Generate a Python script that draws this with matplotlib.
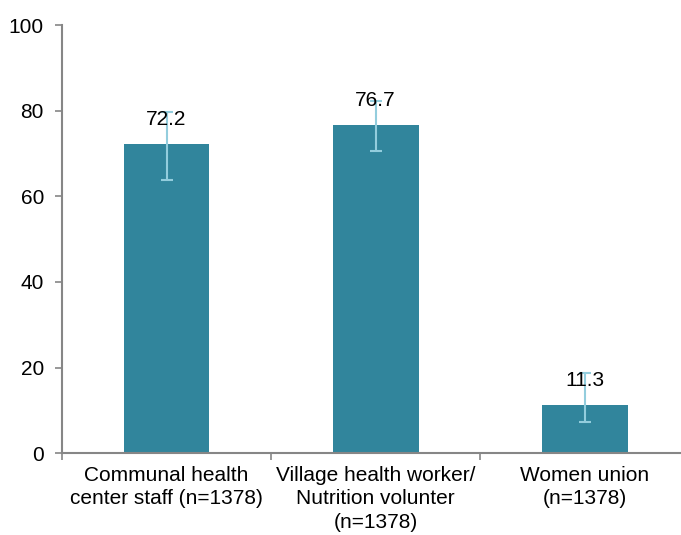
import matplotlib.pyplot as plt
import numpy as np

categories = ["Communal health\ncenter staff (n=1378)",
              "Village health worker/\nNutrition volunter\n(n=1378)",
              "Women union\n(n=1378)"]
values = [72.2, 76.7, 11.3]
ci_low = [63.8, 70.5, 7.3]
ci_high = [79.7, 82.3, 18.7]

plt.rcParams['font.family'] = ['Liberation Sans', 'DejaVu Sans']

fig = plt.figure(figsize=(6.81, 5.35), dpi=100)
ax = fig.add_axes([0.091, 0.153, 0.909, 0.800])

x = np.arange(len(values))
err = [np.array(values) - np.array(ci_low), np.array(ci_high) - np.array(values)]
ax.bar(x, values, width=0.41, color='#31859C', zorder=2)
ax.errorbar(x, values, yerr=err, fmt='none', ecolor='#93CDDD', elinewidth=1.5,
            capsize=4.3, capthick=1.5, zorder=3)

for xi, v in zip(x, values):
    ax.annotate(f"{v:.1f}", (xi, v), xytext=(0, 17.5), textcoords='offset points',
                ha='center', va='center', fontsize=15, zorder=4)

ax.set_ylim(0, 100)
ax.set_yticks([0, 20, 40, 60, 80, 100])
ax.set_xlim(-0.5, 2.46)
ax.set_xticks(x)
ax.set_xticklabels(categories, fontsize=15, linespacing=1.32)
ax.set_xticks([-0.5, 0.5, 1.5], minor=True)
ax.tick_params(axis='x', which='major', length=0, pad=9)
ax.tick_params(axis='x', which='minor', length=5, color='#868686', width=1.2)
ax.tick_params(axis='y', labelsize=15, length=5, color='#868686', width=1.2, pad=8)

for s in ['top', 'right']:
    ax.spines[s].set_visible(False)
for s in ['left', 'bottom']:
    ax.spines[s].set_color('#868686')
    ax.spines[s].set_linewidth(1.5)

fig.savefig('out.png', dpi=100)
